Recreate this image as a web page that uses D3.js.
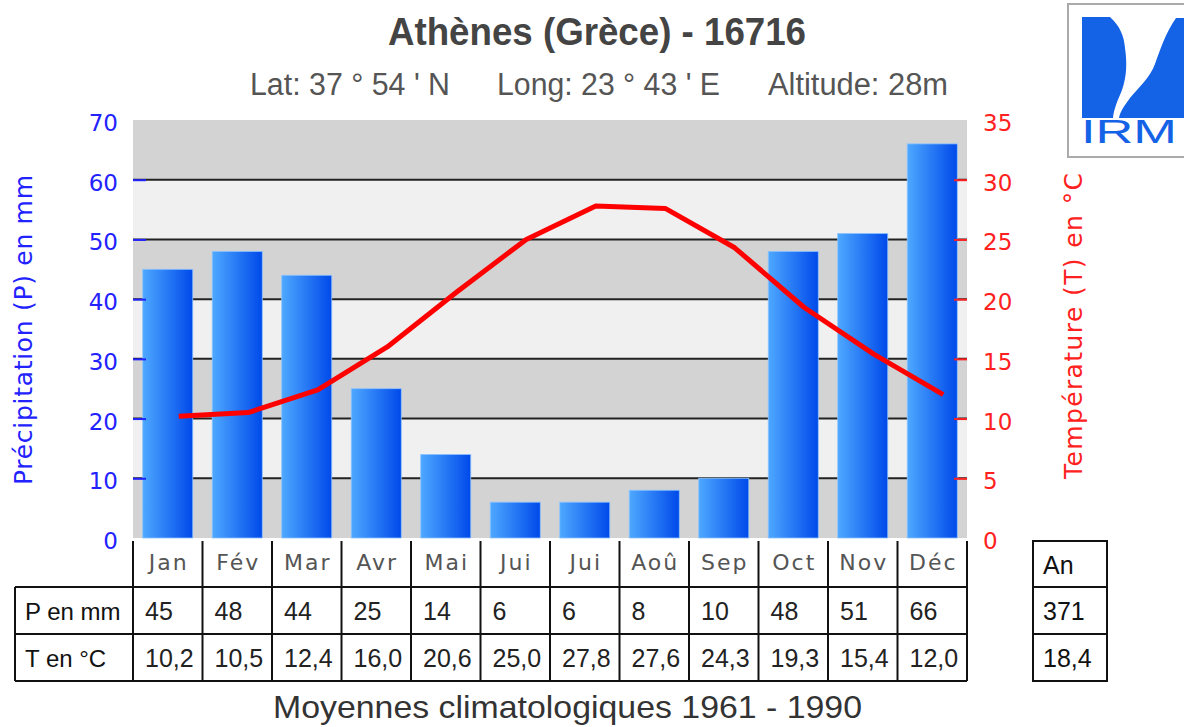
<!DOCTYPE html>
<html>
<head>
<meta charset="utf-8">
<script src="https://cdn.jsdelivr.net/npm/d3@7"></script>
<style>
  body { margin: 0; background: #fff; }
  svg { display: block; }
</style>
</head>
<body>
<div id="chart"></div>
<script>
// monthly normals, Athènes 1961-1990
const months = ["Jan", "Fév", "Mar", "Avr", "Mai", "Jui", "Jui", "Aoû", "Sep", "Oct", "Nov", "Déc"];
const precip = [45, 48, 44, 25, 14, 6, 6, 8, 10, 48, 51, 66];
const temp = [10.2, 10.5, 12.4, 16.0, 20.6, 25.0, 27.8, 27.6, 24.3, 19.3, 15.4, 12.0];
const precipTicks = [0, 10, 20, 30, 40, 50, 60, 70];
const tempTicks = [0, 5, 10, 15, 20, 25, 30, 35];
const annualP = "371";
const annualT = "18,4";

const width = 1184, height = 727;
const plotLeft = 133, plotRight = 967, plotTop = 120, plotBottom = 538;

const svg = d3.select("#chart").append("svg")
  .attr("width", width)
  .attr("height", height);

const x = d3.scaleBand().domain(d3.range(12)).range([plotLeft, plotRight]).paddingInner(0.28).paddingOuter(0.14);
const xCol = d3.scaleBand().domain(d3.range(12)).range([plotLeft, plotRight]);
const yP = d3.scaleLinear().domain([0, 70]).range([plotBottom, plotTop]);
const yT = d3.scaleLinear().domain([0, 35]).range([plotBottom, plotTop]);

const defs = svg.append("defs");
const grad = defs.append("linearGradient").attr("id", "barGrad")
  .attr("x1", "0%").attr("x2", "100%").attr("y1", "0%").attr("y2", "0%");
grad.append("stop").attr("offset", "0%").attr("stop-color", "#4ea8ff");
grad.append("stop").attr("offset", "100%").attr("stop-color", "#0049ea");

// striped background
svg.append("g").selectAll("rect")
  .data(d3.range(7))
  .join("rect")
  .attr("x", plotLeft)
  .attr("width", plotRight - plotLeft)
  .attr("y", d => yP((d + 1) * 10))
  .attr("height", d => yP(d * 10) - yP((d + 1) * 10))
  .attr("fill", d => d % 2 === 0 ? "#d3d3d3" : "#f0f0f0");

// grid lines
svg.append("g").selectAll("line")
  .data(precipTicks.filter(d => d > 0 && d < 70))
  .join("line")
  .attr("x1", plotLeft).attr("x2", plotRight)
  .attr("y1", d => yP(d)).attr("y2", d => yP(d))
  .attr("stroke", "#222")
  .attr("stroke-width", 2);

// bars
svg.append("g").selectAll("rect")
  .data(precip)
  .join("rect")
  .attr("x", (d, i) => x(i))
  .attr("width", x.bandwidth())
  .attr("y", d => yP(d))
  .attr("height", d => yP(0) - yP(d))
  .attr("fill", "url(#barGrad)")
  .attr("stroke", "#8cc4ff")
  .attr("stroke-width", 0.8);

// left axis
const axL = svg.append("g").attr("transform", `translate(${plotLeft},0)`)
  .call(d3.axisRight(yP).tickValues(precipTicks).tickSize(13).tickFormat(""));
axL.select(".domain").remove();
axL.selectAll("line").attr("stroke", "#2222ff").attr("stroke-width", 2);
axL.selectAll(".tick").filter(d => d === 0 || d === 70).remove();
svg.append("g").selectAll("text")
  .data(precipTicks)
  .join("text")
  .attr("x", 118)
  .attr("y", d => yP(d) + 11)
  .attr("text-anchor", "end")
  .attr("font-family", "DejaVu Sans")
  .attr("font-size", 23)
  .attr("fill", "#2222ff")
  .text(d => d);

// right axis
const axR = svg.append("g").attr("transform", `translate(${plotRight},0)`)
  .call(d3.axisLeft(yT).tickValues(tempTicks).tickSize(13).tickFormat(""));
axR.select(".domain").remove();
axR.selectAll("line").attr("stroke", "#ff2020").attr("stroke-width", 2);
axR.selectAll(".tick").filter(d => d === 0 || d === 35).remove();
svg.append("g").selectAll("text")
  .data(tempTicks)
  .join("text")
  .attr("x", 983)
  .attr("y", d => yT(d) + 11)
  .attr("font-family", "DejaVu Sans")
  .attr("font-size", 23)
  .attr("fill", "#ff2020")
  .text(d => d);

// axis titles
svg.append("text")
  .attr("transform", "translate(32,330) rotate(-90)")
  .attr("text-anchor", "middle")
  .attr("font-family", "DejaVu Sans")
  .attr("font-size", 25)
  .attr("textLength", 310)
  .attr("fill", "#2222ff")
  .text("Précipitation (P) en mm");
svg.append("text")
  .attr("transform", "translate(1082,326) rotate(-90)")
  .attr("text-anchor", "middle")
  .attr("font-family", "DejaVu Sans")
  .attr("font-size", 25)
  .attr("textLength", 306)
  .attr("fill", "#ff2020")
  .text("Température (T) en °C");

// temperature line (points sit a little right of the bar centres)
const line = d3.line()
  .x((d, i) => x(i) + x.bandwidth() / 2 + 11)
  .y(d => yT(d));
svg.append("path")
  .datum(temp)
  .attr("d", line)
  .attr("fill", "none")
  .attr("stroke", "#ff0000")
  .attr("stroke-width", 5)
  .attr("stroke-linejoin", "round");

// titles
svg.append("text")
  .attr("x", 388).attr("y", 45)
  .attr("font-family", "Liberation Sans")
  .attr("font-weight", "bold")
  .attr("font-size", 38)
  .attr("textLength", 418)
  .attr("lengthAdjust", "spacingAndGlyphs")
  .attr("fill", "#444")
  .text("Athènes (Grèce) - 16716");
const sub = [["Lat: 37 ° 54 ' N", 250, 200], ["Long: 23 ° 43 ' E", 497, 223], ["Altitude: 28m", 768, 180]];
svg.append("g").selectAll("text")
  .data(sub)
  .join("text")
  .attr("x", d => d[1]).attr("y", 95)
  .attr("font-family", "Liberation Sans")
  .attr("font-size", 31)
  .attr("fill", "#555")
  .attr("textLength", d => d[2])
  .attr("lengthAdjust", "spacingAndGlyphs")
  .text(d => d[0]);

// table
const rowY = [541, 587, 634, 681];
const tbl = svg.append("g").attr("stroke", "#111").attr("stroke-width", 2);
tbl.selectAll("line.v")
  .data(d3.range(13))
  .join("line")
  .attr("x1", d => d < 12 ? xCol(d) : plotRight)
  .attr("x2", d => d < 12 ? xCol(d) : plotRight)
  .attr("y1", rowY[0]).attr("y2", rowY[3]);
tbl.append("line").attr("x1", 15).attr("x2", 15).attr("y1", rowY[1]).attr("y2", rowY[3]);
tbl.selectAll("line.h")
  .data(rowY.slice(1))
  .join("line")
  .attr("x1", 15).attr("x2", plotRight)
  .attr("y1", d => d).attr("y2", d => d);

svg.append("g").selectAll("text")
  .data(months)
  .join("text")
  .attr("x", (d, i) => xCol(i) + xCol.bandwidth() / 2 + 1)
  .attr("y", 570)
  .attr("text-anchor", "middle")
  .attr("font-family", "DejaVu Sans")
  .attr("font-size", 22)
  .attr("letter-spacing", 2)
  .attr("fill", "#555")
  .text(d => d);

const cellText = (vals, y) => svg.append("g").selectAll("text")
  .data(vals)
  .join("text")
  .attr("x", (d, i) => xCol(i) + 12)
  .attr("y", y)
  .attr("font-family", "Liberation Sans")
  .attr("font-size", 25)
  .attr("fill", "#222")
  .text(d => d);
cellText(precip.map(String), 620);
cellText(temp.map(d => d.toFixed(1).replace(".", ",")), 667);

svg.append("text").attr("x", 25).attr("y", 620)
  .attr("font-family", "Liberation Sans").attr("font-size", 24).attr("fill", "#111")
  .text("P en mm");
svg.append("text").attr("x", 25).attr("y", 667)
  .attr("font-family", "Liberation Sans").attr("font-size", 24).attr("fill", "#111")
  .text("T en °C");

// annual box
const an = svg.append("g");
an.append("rect").attr("x", 1033).attr("y", rowY[0]).attr("width", 74).attr("height", rowY[3] - rowY[0])
  .attr("fill", "none").attr("stroke", "#111").attr("stroke-width", 2);
an.selectAll("line").data(rowY.slice(1, 3)).join("line")
  .attr("x1", 1033).attr("x2", 1107).attr("y1", d => d).attr("y2", d => d)
  .attr("stroke", "#111").attr("stroke-width", 2);
an.selectAll("text").data(["An", annualP, annualT]).join("text")
  .attr("x", 1043)
  .attr("y", (d, i) => [574, 620, 667][i])
  .attr("font-family", "Liberation Sans")
  .attr("font-size", 25)
  .attr("fill", "#111")
  .text(d => d);

// footer
svg.append("text")
  .attr("x", 273).attr("y", 718)
  .attr("font-family", "Liberation Sans")
  .attr("font-size", 32)
  .attr("textLength", 589)
  .attr("lengthAdjust", "spacingAndGlyphs")
  .attr("fill", "#333")
  .text("Moyennes climatologiques 1961 - 1990");

// IRM logo
const logo = svg.append("g");
logo.append("rect").attr("x", 1068).attr("y", 4).attr("width", 130).attr("height", 153)
  .attr("fill", "#fff").attr("stroke", "#aaa").attr("stroke-width", 2);
logo.append("path")
  .attr("d", "M1082,17 L1110,17 C1120,26 1124,36 1125,48 C1127,62 1127,76 1122,90 C1118,100 1114,108 1113,118 L1082,118 Z")
  .attr("fill", "#1462e6");
logo.append("path")
  .attr("d", "M1184,18 L1176,18 C1166,32 1160,50 1155,64 C1150,78 1138,88 1130,98 C1124,106 1120,112 1119,118 L1184,118 Z")
  .attr("fill", "#1462e6");
logo.append("text")
  .attr("x", 1081).attr("y", 143)
  .attr("font-family", "Liberation Sans")
  .attr("font-size", 33)
  .attr("textLength", 96)
  .attr("lengthAdjust", "spacingAndGlyphs")
  .attr("fill", "#1462e6")
  .text("IRM");
</script>
</body>
</html>
